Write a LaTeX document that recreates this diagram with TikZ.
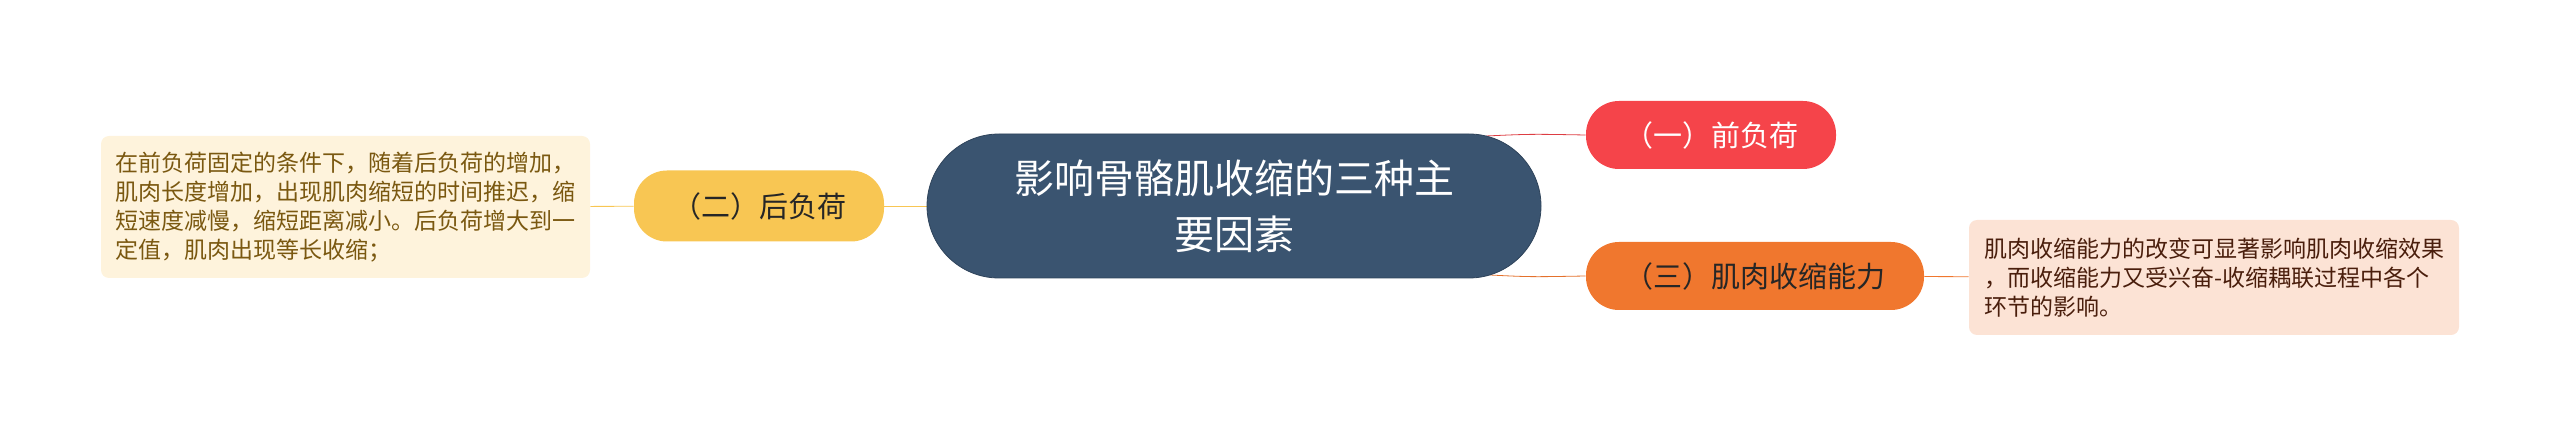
\documentclass[tikz,border=0pt]{standalone}
\usepackage{fontspec}
\setmainfont{Noto Sans CJK SC}
\usetikzlibrary{backgrounds}
\definecolor{mainblue}{HTML}{3A5470}
\definecolor{redbr}{HTML}{F5444A}
\definecolor{orangebr}{HTML}{F0772E}
\definecolor{yellowbr}{HTML}{F8C653}
\definecolor{noteyellow}{HTML}{FEF3DC}
\definecolor{noteorange}{HTML}{FCE3D5}
\definecolor{textbrown}{HTML}{7A5810}
\definecolor{textdark}{HTML}{4A1E0C}

\begin{document}
\begin{tikzpicture}[x=0.5pt, y=0.5pt, every node/.style={inner sep=0pt, align=center},
  topic/.style={draw=mainblue!80!black, fill=mainblue, text=white, rounded corners=36pt, minimum width=307pt, minimum height=72pt, font=\fontsize{20pt}{28pt}\selectfont},
  branch/.style={rounded corners=16.5pt, minimum height=34pt, font=\fontsize{14.5pt}{17pt}\selectfont},
  note/.style={rounded corners=4pt, align=left, font=\fontsize{11.5pt}{14.5pt}\selectfont}]
\useasboundingbox (0,0) rectangle (2560,434);
\node[topic] (T0) at (1234,228) {影响骨骼肌收缩的三种主\\要因素};
\node[branch, fill=redbr, text=white, minimum width=125pt] (T1N1) at (1711,299) {（一）前负荷};
\node[branch, fill=yellowbr, text=black!85, minimum width=125pt, minimum height=35.5pt] (T1N2) at (759,228) {（二）后负荷};
\node[branch, fill=orangebr, text=black!85, minimum width=169pt] (T1N3) at (1755,158) {（三）肌肉收缩能力};
\node[note, fill=noteyellow, text=textbrown, minimum width=244.5pt, minimum height=71pt] (T2N2) at (345.5,227) {在前负荷固定的条件下，随着后负荷的增加，\\肌肉长度增加，出现肌肉缩短的时间推迟，缩\\短速度减慢，缩短距离减小。后负荷增大到一\\定值，肌肉出现等长收缩；};
\node[note, fill=noteorange, text=textdark, minimum width=245pt, minimum height=57.5pt] (T2N3) at (2214,156.5) {肌肉收缩能力的改变可显著影响肌肉收缩效果\\，而收缩能力又受兴奋-收缩耦联过程中各个\\环节的影响。};
\coordinate (T0a) at (1486,298);
\coordinate (T0b) at (1490,159);
\begin{scope}[on background layer, line width=2pt]
\draw[redbr!90!black] (T0a) .. controls (1530,300) .. (T1N1.west);
\draw[orangebr!95!black] (T0b) .. controls (1530,157) .. (T1N3.west);
\draw[yellowbr] (T0) -- (T1N2);
\draw[yellowbr] (T1N2) -- (T2N2);
\draw[orangebr] (T1N3) -- (T2N3);
\end{scope}
\end{tikzpicture}
\end{document}
